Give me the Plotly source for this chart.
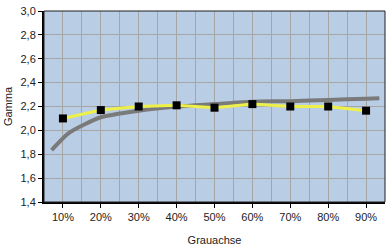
import plotly.graph_objects as go

categories = [10, 20, 30, 40, 50, 60, 70, 80, 90]
tick_labels = ["10%", "20%", "30%", "40%", "50%", "60%", "70%", "80%", "90%"]
measured = [2.10, 2.17, 2.20, 2.21, 2.19, 2.22, 2.20, 2.20, 2.165]

ref_x = [7, 11.6, 20, 30, 40, 50, 60, 70, 80, 90, 93.5]
ref_y = [1.835, 1.98, 2.11, 2.165, 2.20, 2.22, 2.24, 2.245, 2.255, 2.265, 2.27]

fig = go.Figure()
fig.add_trace(go.Scatter(x=ref_x, y=ref_y, mode="lines",
                         line=dict(color="#7a7a7a", width=4, shape="spline", smoothing=0.6),
                         showlegend=False, hoverinfo="skip"))
fig.add_trace(go.Scatter(x=categories, y=measured, mode="lines+markers",
                         line=dict(color="#eef04a", width=3),
                         marker=dict(symbol="square", size=8, color="#000000"),
                         showlegend=False))

grid = "#a6a6a6"
fig.update_layout(
    width=391, height=252,
    margin=dict(l=44, r=6, t=11, b=50),
    paper_bgcolor="white",
    plot_bgcolor="#b9cde5",
    separators=",.",
    font=dict(family="Liberation Sans, Arial, sans-serif", size=11, color="#222222"),
    xaxis=dict(
        range=[5, 95], tickmode="array", tickvals=categories, ticktext=tick_labels,
        showgrid=True, gridcolor=grid, gridwidth=1,
        minor=dict(tick0=5, dtick=5, showgrid=True, gridcolor=grid, gridwidth=1),
        ticks="outside", ticklen=4, tickcolor="#000000",
        showline=True, linecolor="#000000", linewidth=2, mirror=False,
        zeroline=False, fixedrange=True, automargin=False,
        title=dict(text="Grauachse", standoff=14, font=dict(size=11)),
    ),
    yaxis=dict(
        range=[1.4, 3.0], dtick=0.2, tickformat=".1f",
        showgrid=True, gridcolor=grid, gridwidth=1,
        ticks="outside", ticklen=4, tickcolor="#000000",
        showline=True, linecolor="#000000", linewidth=2,
        zeroline=False, fixedrange=True, automargin=False,
        title=dict(text="Gamma", standoff=6, font=dict(size=11)),
    ),
    shapes=[dict(type="rect", xref="paper", yref="paper", x0=0, x1=1, y0=0, y1=1,
                 line=dict(color="#202020", width=1), layer="above")],
)

fig.write_html("out.html")
